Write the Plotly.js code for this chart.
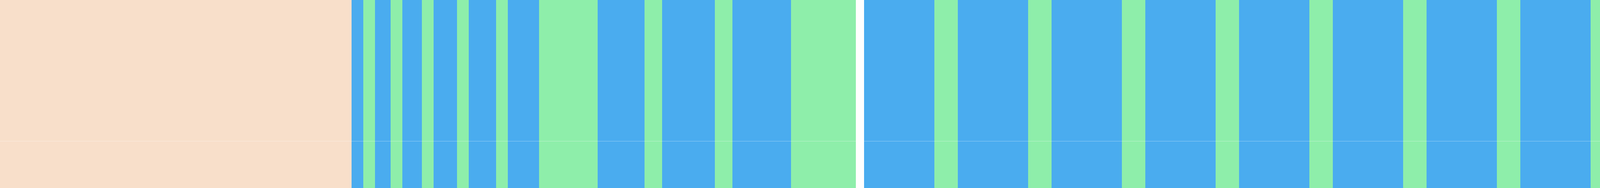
<!DOCTYPE html>
<html>
<head>
<meta charset="utf-8">
<script src="https://cdn.plot.ly/plotly-3.0.1.min.js"></script>
<style>
  html, body { margin: 0; padding: 0; background: #fff; }
  #chart { width: 5601px; height: 480px; }
</style>
</head>
<body>
<div id="chart"></div>
<script>
// 세션 구간 (x 단위: 시간 눈금 1칸 = 10px 상당)
const sessionStart = [90, 221.2, 427.4];
const sessionEnd = [219.1, 425.3, 528.0];
const sessionWork = ['work', 'work', 'deep']; // 작업 블록 색 종류

// 작업 블록 시작/끝 (세션별)
const workStart = [
  [90, 96, 103, 111, 120, 130, 153, 169.5, 187.5],
  [221.2, 245.2, 269.2, 293.2, 317.2, 341.2, 365.2, 389.2],
  [427.4, 435.9, 445.4, 455.9, 467.4, 491.9, 496.4, 500.9, 505.4, 509.9, 514.4, 518.9, 523.4]
];
const workEnd = [
  [93, 100, 108, 117, 127, 138, 165, 183, 202.5],
  [239.2, 263.2, 287.2, 311.2, 335.2, 359.2, 383.2, 407.2],
  [431.4, 440.9, 451.4, 462.9, 475.4, 495.9, 500.4, 504.9, 509.4, 513.9, 518.4, 522.9, 527.4]
];

// 마지막 세션 누적 진행량 (각 블록 종료 시점)
const progress = [4, 9, 15, 22, 30, 34, 38, 42, 46, 50, 54, 58, 62];

const xRange = [0, 560.1];
const yRange = [-31, 93];

const COLORS = {
  bg: '#F8DFCA',
  brk: '#8EEEAA',
  work: '#4AACEF',
  deep: '#0080B0',
  fill: '#00A8E0',
  fillBreak: '#B2FFE0',
  sep: '#FFFFFF'
};

document.addEventListener('DOMContentLoaded', () => {
  const shapes = [];
  const rect = (x0, x1, color, y0, y1, yref) => ({
    type: 'rect', layer: 'below', xref: 'x', yref: yref || 'paper',
    x0: x0, x1: x1, y0: y0 == null ? 0 : y0, y1: y1 == null ? 1 : y1,
    fillcolor: color, line: { width: 0 }
  });

  sessionStart.forEach((s, i) => {
    // 휴식(배경) + 세션 사이 구분선
    shapes.push(rect(s, sessionEnd[i], COLORS.brk));
    const next = i + 1 < sessionStart.length ? sessionStart[i + 1] : sessionEnd[i] + 2.1;
    shapes.push(rect(sessionEnd[i], next, COLORS.sep));
    workStart[i].forEach((w, j) => {
      shapes.push(rect(w, workEnd[i][j], COLORS[sessionWork[i]]));
    });
  });

  // 오른쪽 목표 영역 (최종 진행량까지)
  const last = sessionStart.length - 1;
  shapes.push(rect(sessionEnd[last] + 2.1, xRange[1], COLORS.sep, 0, progress[progress.length - 1], 'y'));

  // 누적 진행 영역
  const ws = workStart[last], we = workEnd[last];
  const ax = [], ay = [];
  let prev = 0;
  ws.forEach((w, j) => {
    ax.push(w); ay.push(prev);
    ax.push(we[j]); ay.push(progress[j]);
    prev = progress[j];
  });
  ax.push(sessionEnd[last]); ay.push(prev);

  // 휴식 구간의 평탄부 (구간마다 닫힌 사각형, null 로 분리)
  const bx = [], by = [];
  we.forEach((e, j) => {
    const nxt = j + 1 < ws.length ? ws[j + 1] : sessionEnd[last];
    bx.push(e, e, nxt, nxt, null);
    by.push(0, progress[j], progress[j], 0, null);
  });

  const traces = [
    {
      type: 'scatter', mode: 'lines', x: ax, y: ay, fill: 'tozeroy',
      fillcolor: COLORS.fill, line: { width: 0, color: COLORS.fill },
      hoverinfo: 'skip', showlegend: false
    },
    {
      type: 'scatter', mode: 'lines', x: bx, y: by, fill: 'toself', connectgaps: false,
      fillcolor: COLORS.fillBreak, line: { width: 0, color: COLORS.fillBreak },
      hoverinfo: 'skip', showlegend: false
    }
  ];

  const axisBase = {
    showgrid: false, showline: false, showticklabels: false, ticks: '', fixedrange: true
  };

  Plotly.newPlot('chart', traces, {
    width: 5601, height: 480,
    margin: { l: 0, r: 0, t: 0, b: 0, pad: 0 },
    paper_bgcolor: '#FFFFFF', plot_bgcolor: COLORS.bg,
    xaxis: Object.assign({}, axisBase, { range: xRange, zeroline: false }),
    yaxis: Object.assign({}, axisBase, {
      range: yRange, zeroline: true, zerolinecolor: 'rgba(255,255,255,0.4)', zerolinewidth: 1
    }),
    shapes: shapes,
    showlegend: false
  }, { displayModeBar: false, staticPlot: true });
});
</script>
</body>
</html>
